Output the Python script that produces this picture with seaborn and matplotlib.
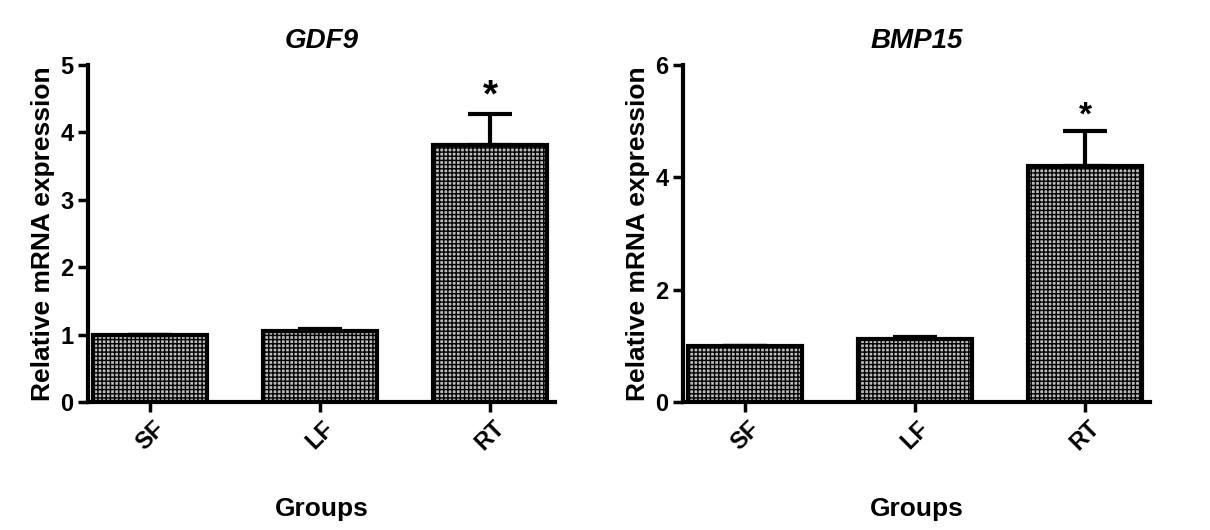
import matplotlib
matplotlib.use("Agg")
import matplotlib.pyplot as plt
import seaborn as sns
import pandas as pd

groups = ["SF", "LF", "RT"]
gdf9 = [1.0, 1.05, 3.82]
gdf9_err = [0.0, 0.03, 0.45]
bmp15 = [1.0, 1.12, 4.2]
bmp15_err = [0.0, 0.04, 0.62]
titles = ["GDF9", "BMP15"]

plt.rcParams["font.family"] = "Liberation Sans"
plt.rcParams["font.weight"] = "bold"
plt.rcParams["hatch.linewidth"] = 1.0
fig = plt.figure(figsize=(12.1, 5.3), dpi=100)
W, H = 1210, 530
axes = [fig.add_axes([88/W, 128/H, 467/W, 337/H]),
        fig.add_axes([683/W, 128/H, 467/W, 337/H])]
specs = [(gdf9, gdf9_err, 5, [0, 1, 2, 3, 4, 5], 28),
         (bmp15, bmp15_err, 6, [0, 2, 4, 6], 24)]
for ax, (vals, errs, ymax, ticks, sz), title in zip(axes, specs, titles):
    df = pd.DataFrame({"g": groups, "v": vals})
    sns.barplot(data=df, x="g", y="v", ax=ax, color="#bbbbbb", width=0.67,
                edgecolor="black", linewidth=3, errorbar=None, hatch="++++")
    ax.errorbar(range(3), vals, yerr=[[0]*3, errs], fmt="none", ecolor="black",
                elinewidth=3, capsize=16, capthick=3)
    top = vals[2] + errs[2]
    ax.text(2, top + ymax*0.0, "*", ha="center", va="bottom", fontsize=sz, fontweight="bold")
    ax.set_ylim(0, ymax)
    ax.set_yticks(ticks)
    ax.set_xlim(-0.365, 2.38)
    ax.set_title(title, fontsize=20, fontweight="bold", style="italic", pad=12)
    ax.set_xlabel("Groups", fontsize=19, labelpad=30, fontweight="bold")
    ax.set_ylabel("Relative mRNA expression", fontsize=19, fontweight="bold")
    sns.despine(ax=ax)
    for s in ["left", "bottom"]:
        ax.spines[s].set_linewidth(3)
    ax.tick_params(width=2.5, length=7, labelsize=17)
    for lab in ax.get_xticklabels():
        lab.set_rotation(45)
fig.savefig("out.png", dpi=100)
